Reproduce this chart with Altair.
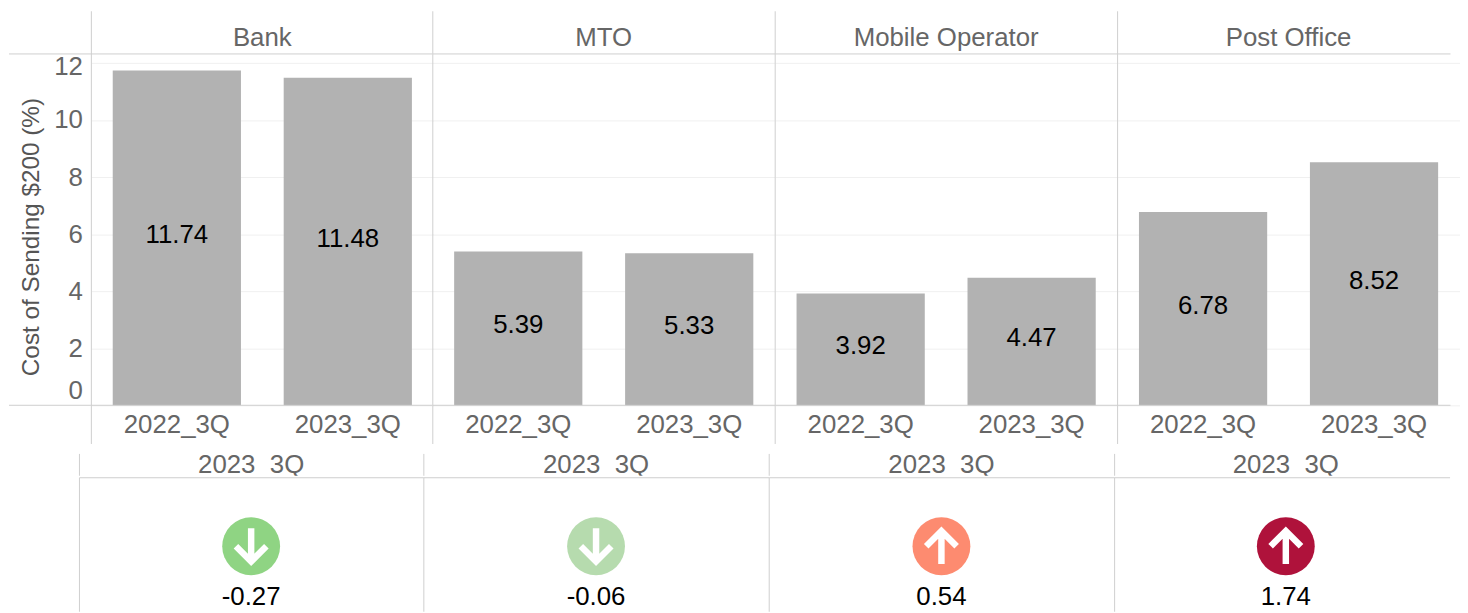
import altair as alt
import pandas as pd

categories = ["Bank", "MTO", "Mobile Operator", "Post Office"]
periods = ["2022_3Q", "2023_3Q"]
values_2022 = [11.74, 5.39, 3.92, 6.78]
values_2023 = [11.48, 5.33, 4.47, 8.52]
changes = [-0.27, -0.06, 0.54, 1.74]
directions = ["down", "down", "up", "up"]
icon_colors = ["#8fd483", "#b6dbae", "#fd8b70", "#af123b"]
y_ticks = [0, 2, 4, 6, 8, 10, 12]

FONT = "Liberation Sans"
GREY = "#666666"
LINE = "#cfcfcf"
TOP_W = [343.6, 345, 345, 335.4]
TOP_R = [344.5, 344.5, 344.5, 344.5]
BOT_W = [347, 348, 348, 338]
BOT_R = [346, 347, 347, 345]
PLOT_H = 354
HEAD_H = 22
BODY_H = 135
ARROW_UP = "M0,1 L0,-0.85 M-0.85,0 L0,-0.85 L0.85,0"
ARROW_DOWN = "M0,-1 L0,0.85 M-0.85,0 L0,0.85 L0.85,0"
one = alt.Data(values=[{"a": 1}])


def rule(**enc):
    return alt.Chart(one).mark_rule(color=LINE, strokeWidth=1).encode(**enc)


def top_panel(i):
    df = pd.DataFrame({"period": periods, "value": [values_2022[i], values_2023[i]]})
    first = i == 0
    if first:
        yaxis = alt.Axis(values=y_ticks, grid=True, gridColor="#f0f0f0", ticks=False, domain=False,
                         title="Cost of Sending $200 (%)", titleFontSize=24.5, titleFont=FONT,
                         titleFontWeight="normal", titleColor="#555555", titleX=-60, titleY=184,
                         titleAlign="center", titleBaseline="middle", titleAngle=270,
                         labelFontSize=26, labelFont=FONT, labelColor=GREY, labelPadding=9,
                         labelOffset={"condition": [{"test": "datum.value === 0", "value": -15},
                                                    {"test": "datum.value === 12", "value": 4}], "value": 0})
    else:
        yaxis = alt.Axis(values=y_ticks, grid=True, gridColor="#f0f0f0", ticks=False, domain=False,
                         labels=False, title=None)
    y = alt.Y("value:Q", scale=alt.Scale(domain=[0, 12.316], nice=False), axis=yaxis)
    x = alt.X("period:N", sort=periods,
              scale=alt.Scale(paddingInner=0.25, paddingOuter=0.125, range=[0, TOP_R[i]]),
              axis=alt.Axis(title=None, labelAngle=0, labelFontSize=26, labelFont=FONT, labelColor=GREY,
                            ticks=False, domain=False, labelPadding=6, grid=False))
    bars = alt.Chart(df).mark_bar(color="#b2b2b2").encode(x=x, y=y)
    text = (alt.Chart(df).transform_calculate(mid="datum.value / 2")
            .mark_text(fontSize=26, font=FONT, color="#000000", baseline="middle", dy=-3)
            .encode(x=alt.X("period:N", sort=periods), y=alt.Y("mid:Q"), text=alt.Text("value:Q", format=".2f")))
    header = alt.Chart(pd.DataFrame({"cat": [categories[i]]})).mark_text(
        fontSize=26, font=FONT, color=GREY, baseline="middle").encode(
        x=alt.value(TOP_R[i] / 2), y=alt.value(-16), text="cat:N")
    left = -83 if first else 0
    rules = [
        rule(x=alt.value(0), y=alt.value(-43), y2=alt.value(393)),
        rule(x=alt.value(left), x2=alt.value(TOP_W[i]), y=alt.value(0)),
        rule(x=alt.value(left), x2=alt.value(TOP_W[i]), y=alt.value(PLOT_H)),
    ]
    return alt.layer(bars, text, header, *rules).properties(width=TOP_W[i], height=PLOT_H)


def indent():
    return alt.Chart(one).mark_rule(strokeOpacity=0).encode(x=alt.value(0), y=alt.value(0)).properties(
        width=12, height=PLOT_H)


def header_panel(i):
    df = pd.DataFrame({"period": [periods[1]]})
    t = alt.Chart(df).mark_text(fontSize=26, font=FONT, color=GREY, baseline="middle", clip=True).encode(
        x=alt.X("period:N", axis=None, scale=alt.Scale(range=[0, BOT_R[i]])), y=alt.value(11), text="period:N")
    return alt.layer(t, rule(x=alt.value(0), y=alt.value(0), y2=alt.value(HEAD_H))).properties(
        width=BOT_W[i], height=HEAD_H)


def body_panel(i):
    df = pd.DataFrame({"period": [periods[1]], "cat": [categories[i]], "change": [f"{changes[i]:.2f}"],
                       "dir": [directions[i]]})
    x = alt.X("period:N", axis=None, scale=alt.Scale(range=[0, BOT_R[i]]))
    circ = alt.Chart(df).mark_circle(size=3400, opacity=1).encode(
        x=x, y=alt.value(69),
        color=alt.Color("cat:N", scale=alt.Scale(domain=categories, range=icon_colors), legend=None))
    arrow = alt.Chart(df).mark_point(filled=False, size=1300, stroke="#ffffff", strokeWidth=6.5, opacity=1).encode(
        x=x, y=alt.value(69),
        shape=alt.Shape("dir:N", scale=alt.Scale(domain=["up", "down"], range=[ARROW_UP, ARROW_DOWN]), legend=None))
    txt = alt.Chart(df).mark_text(fontSize=26, font=FONT, color="#000000", baseline="middle").encode(
        x=x, y=alt.value(120), text="change:N")
    return alt.layer(circ, arrow, txt,
                     rule(x=alt.value(0), y=alt.value(0), y2=alt.value(BODY_H)),
                     rule(x=alt.value(0), x2=alt.value(BOT_W[i]), y=alt.value(0))
                     ).properties(width=BOT_W[i], height=BODY_H)


r = range(4)
top = alt.hconcat(indent(), *[top_panel(i) for i in r], spacing=0, bounds="flush")
head = alt.hconcat(*[header_panel(i) for i in r], spacing=0, bounds="flush")
body = alt.hconcat(*[body_panel(i) for i in r], spacing=0, bounds="flush")
chart = (alt.vconcat(top, alt.vconcat(head, body, spacing=0), spacing=8)
         .properties(padding=0)
         .configure_view(stroke=None)
         .resolve_scale(color="independent"))
chart.save("out.html", embed_options={"renderer": "svg", "actions": False})
